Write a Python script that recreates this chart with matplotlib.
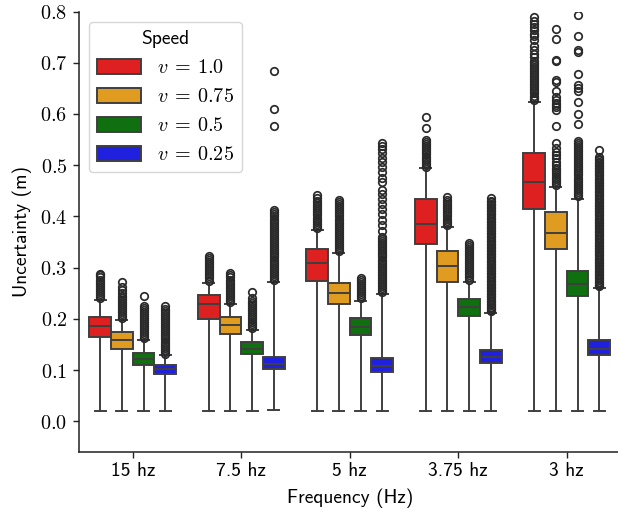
import matplotlib
matplotlib.use('Agg')
import matplotlib.pyplot as plt
from matplotlib.patches import Patch
from matplotlib.ticker import FuncFormatter, MultipleLocator
import colorsys
import matplotlib.colors as mcolors

categories = ['15 hz', '7.5 hz', '5 hz', '3.75 hz', '3 hz']
speed_labels = [r'$v\:=\:1.0$', r'$v\:=\:0.75$', r'$v\:=\:0.5$', r'$v\:=\:0.25$']
base_colors = ['red', 'orange', 'green', 'blue']

# per speed, per frequency
q1 = [[0.164, 0.200, 0.274, 0.346, 0.414],
      [0.141, 0.171, 0.229, 0.273, 0.336],
      [0.111, 0.132, 0.169, 0.206, 0.2455],
      [0.093, 0.102, 0.097, 0.115, 0.130]]
med = [[0.186, 0.229, 0.309, 0.385, 0.468],
       [0.158, 0.188, 0.250, 0.304, 0.368],
       [0.121, 0.142, 0.185, 0.223, 0.269],
       [0.102, 0.113, 0.108, 0.125, 0.1415]]
q3 = [[0.203, 0.247, 0.336, 0.4335, 0.523],
      [0.175, 0.2045, 0.271, 0.333, 0.408],
      [0.133, 0.155, 0.201, 0.239, 0.294],
      [0.110, 0.126, 0.123, 0.1395, 0.158]]
whishi = [[0.237, 0.271, 0.374, 0.494, 0.624],
          [0.198, 0.229, 0.328, 0.380, 0.458],
          [0.159, 0.179, 0.236, 0.273, 0.435],
          [0.129, 0.272, 0.249, 0.211, 0.260]]
whislo = [[0.020, 0.020, 0.021, 0.021, 0.021],
          [0.020, 0.020, 0.020, 0.020, 0.021],
          [0.020, 0.020, 0.020, 0.020, 0.020],
          [0.020, 0.022, 0.021, 0.021, 0.020]]

fliers = [
    [  # v = 1.0
        [0.241, 0.245, 0.249, 0.253, 0.257, 0.261, 0.265, 0.269, 0.273, 0.277, 0.281, 0.285, 0.288],
        [0.275, 0.279, 0.283, 0.287, 0.291, 0.295, 0.299, 0.303, 0.307, 0.311, 0.315, 0.319, 0.323],
        [0.378, 0.382, 0.386, 0.390, 0.394, 0.398, 0.402, 0.406, 0.410, 0.414, 0.418, 0.422, 0.426,
         0.431, 0.436, 0.442],
        [0.497, 0.501, 0.505, 0.509, 0.513, 0.517, 0.521, 0.525, 0.529, 0.533, 0.537, 0.541, 0.545,
         0.549, 0.573, 0.594],
        [0.628, 0.632, 0.636, 0.640, 0.644, 0.648, 0.652, 0.656, 0.660, 0.664, 0.668, 0.672, 0.676,
         0.680, 0.684, 0.688, 0.692, 0.696, 0.700, 0.704, 0.712, 0.718, 0.725, 0.733, 0.744, 0.752,
         0.757, 0.764, 0.770, 0.776, 0.782, 0.790],
    ],
    [  # v = 0.75
        [0.201, 0.205, 0.209, 0.213, 0.217, 0.221, 0.225, 0.229, 0.233, 0.237, 0.241, 0.245, 0.251,
         0.256, 0.262, 0.273],
        [0.233, 0.237, 0.241, 0.245, 0.249, 0.253, 0.257, 0.261, 0.265, 0.269, 0.273, 0.277, 0.281,
         0.285, 0.290],
        [0.332, 0.336, 0.340, 0.344, 0.348, 0.352, 0.356, 0.360, 0.364, 0.368, 0.372, 0.376, 0.380,
         0.384, 0.388, 0.392, 0.396, 0.400, 0.404, 0.408, 0.412, 0.416, 0.420, 0.424, 0.428, 0.433],
        [0.384, 0.388, 0.392, 0.396, 0.400, 0.404, 0.408, 0.412, 0.416, 0.420, 0.424, 0.428, 0.432,
         0.438],
        [0.462, 0.466, 0.470, 0.474, 0.478, 0.482, 0.486, 0.490, 0.494, 0.500, 0.506, 0.514, 0.520,
         0.526, 0.534, 0.543, 0.577, 0.608, 0.613, 0.617, 0.622, 0.627, 0.634, 0.644, 0.663, 0.666,
         0.703, 0.705, 0.746, 0.765],
    ],
    [  # v = 0.5
        [0.162, 0.166, 0.170, 0.174, 0.178, 0.182, 0.186, 0.190, 0.194, 0.198, 0.202, 0.206, 0.210,
         0.214, 0.218, 0.222, 0.226, 0.245],
        [0.183, 0.187, 0.191, 0.195, 0.199, 0.203, 0.207, 0.211, 0.215, 0.219, 0.223, 0.227, 0.231,
         0.235, 0.240, 0.253],
        [0.240, 0.244, 0.248, 0.252, 0.256, 0.260, 0.264, 0.268, 0.272, 0.276, 0.279],
        [0.277, 0.281, 0.285, 0.289, 0.293, 0.297, 0.301, 0.305, 0.309, 0.313, 0.317, 0.321, 0.325,
         0.329, 0.333, 0.337, 0.341, 0.345, 0.349],
        [0.440, 0.444, 0.448, 0.452, 0.456, 0.460, 0.464, 0.468, 0.472, 0.476, 0.480, 0.484, 0.488,
         0.492, 0.496, 0.500, 0.504, 0.508, 0.512, 0.516, 0.520, 0.524, 0.528, 0.532, 0.536, 0.540,
         0.544, 0.548, 0.580, 0.600, 0.624, 0.645, 0.650, 0.656, 0.678, 0.720, 0.724, 0.752, 0.793],
    ],
    [  # v = 0.25
        [0.132, 0.136, 0.140, 0.144, 0.148, 0.152, 0.156, 0.160, 0.164, 0.168, 0.172, 0.176, 0.180,
         0.184, 0.188, 0.192, 0.196, 0.200, 0.204, 0.208, 0.212, 0.216, 0.220, 0.225],
        [0.276, 0.280, 0.284, 0.288, 0.292, 0.296, 0.300, 0.304, 0.308, 0.312, 0.316, 0.320, 0.324,
         0.328, 0.332, 0.336, 0.340, 0.344, 0.348, 0.352, 0.356, 0.360, 0.364, 0.368, 0.372, 0.376,
         0.380, 0.384, 0.388, 0.392, 0.396, 0.400, 0.404, 0.408, 0.413, 0.577, 0.610, 0.684],
        [0.252, 0.256, 0.260, 0.264, 0.268, 0.272, 0.276, 0.280, 0.284, 0.288, 0.292, 0.296, 0.300,
         0.304, 0.308, 0.312, 0.316, 0.320, 0.324, 0.328, 0.332, 0.336, 0.340, 0.344, 0.348, 0.352,
         0.356, 0.360, 0.372, 0.384, 0.393, 0.404, 0.414, 0.424, 0.435, 0.444, 0.452, 0.468, 0.476,
         0.487, 0.497, 0.506, 0.515, 0.524, 0.531, 0.538, 0.543],
        [0.215, 0.218, 0.221, 0.224, 0.227, 0.230, 0.233, 0.236, 0.239, 0.242, 0.245, 0.248, 0.251,
         0.254, 0.257, 0.260, 0.263, 0.266, 0.269, 0.272, 0.275, 0.278, 0.281, 0.284, 0.287, 0.290,
         0.293, 0.296, 0.299, 0.302, 0.305, 0.308, 0.311, 0.314, 0.317, 0.320, 0.323, 0.326, 0.329,
         0.332, 0.335, 0.338, 0.341, 0.344, 0.347, 0.350, 0.353, 0.356, 0.359, 0.362, 0.365, 0.368,
         0.371, 0.374, 0.377, 0.380, 0.383, 0.386, 0.389, 0.392, 0.395, 0.398, 0.401, 0.404, 0.407,
         0.410, 0.413, 0.416, 0.419, 0.422, 0.425, 0.428, 0.431, 0.436],
        [0.264, 0.267, 0.270, 0.273, 0.276, 0.279, 0.282, 0.285, 0.288, 0.291, 0.294, 0.297, 0.300,
         0.303, 0.306, 0.309, 0.312, 0.315, 0.318, 0.321, 0.324, 0.327, 0.330, 0.333, 0.336, 0.339,
         0.342, 0.345, 0.348, 0.351, 0.354, 0.357, 0.360, 0.363, 0.366, 0.369, 0.372, 0.375, 0.378,
         0.381, 0.384, 0.387, 0.390, 0.393, 0.396, 0.399, 0.402, 0.405, 0.408, 0.411, 0.414, 0.417,
         0.420, 0.423, 0.426, 0.429, 0.432, 0.435, 0.438, 0.441, 0.444, 0.447, 0.450, 0.453, 0.456,
         0.459, 0.462, 0.465, 0.468, 0.471, 0.474, 0.477, 0.480, 0.483, 0.486, 0.489, 0.492, 0.495,
         0.498, 0.501, 0.504, 0.507, 0.510, 0.513, 0.516, 0.530],
    ],
]


def desat(c, s=0.75):
    r, g, b = mcolors.to_rgb(c)
    h, l, sat = colorsys.rgb_to_hls(r, g, b)
    return colorsys.hls_to_rgb(h, l, sat * s)


colors = [desat(c) for c in base_colors]
line_col = '#3f3f3f'
flier_col = '#2a2a2a'
sans = 'cmss10'
fs = 14

plt.rcParams['mathtext.fontset'] = 'cm'
plt.rcParams['axes.unicode_minus'] = False

fig = plt.figure(figsize=(6.18, 5.12), dpi=100)
ax = fig.add_axes([78.5 / 618, 60.3 / 512, 542.5 / 618, 440.2 / 512])

n_hue = len(speed_labels)
hue_w = 0.8 / n_hue
for h in range(n_hue):
    stats = []
    pos = []
    for i in range(len(categories)):
        stats.append(dict(med=med[h][i], q1=q1[h][i], q3=q3[h][i],
                          whislo=whislo[h][i], whishi=whishi[h][i],
                          fliers=fliers[h][i]))
        pos.append(i - 0.4 + hue_w * (h + 0.5))
    ax.bxp(stats, positions=pos, widths=hue_w, patch_artist=True, manage_ticks=False,
           boxprops=dict(facecolor=colors[h], edgecolor=line_col, linewidth=1.4),
           medianprops=dict(color=line_col, linewidth=1.4),
           whiskerprops=dict(color=line_col, linewidth=1.4),
           capprops=dict(color=line_col, linewidth=1.4),
           capwidths=hue_w * 0.5,
           flierprops=dict(marker='o', markersize=5.4, markerfacecolor='none',
                           markeredgecolor=flier_col, markeredgewidth=1.25, linestyle='none'))

ax.set_xlim(-0.5, 4.5)
ax.set_ylim(-0.059, 0.8)
ax.set_xticks(range(len(categories)))
ax.set_xticklabels(categories, fontfamily=sans, fontsize=fs)
ax.yaxis.set_major_locator(MultipleLocator(0.1))
ax.yaxis.set_major_formatter(FuncFormatter(lambda v, p: f'${v:.1f}$'))
ax.tick_params(axis='y', labelsize=fs + 0.5, length=4.5, width=1.0, color='#222222')
ax.tick_params(axis='x', length=4, width=1.0, color='#222222')
ax.spines['top'].set_visible(False)
ax.spines['right'].set_visible(False)
for s in ['left', 'bottom']:
    ax.spines[s].set_color('#222222')
    ax.spines[s].set_linewidth(1.1)

ax.set_xlabel('Frequency (Hz)', fontfamily=sans, fontsize=fs, labelpad=6)
ax.set_ylabel('Uncertainty (m)', fontfamily=sans, fontsize=fs, labelpad=6)

handles = [Patch(facecolor=colors[h], edgecolor=line_col, linewidth=1.4, label=speed_labels[h])
           for h in range(n_hue)]
leg = ax.legend(handles=handles, loc='upper left', bbox_to_anchor=(0.019, 0.976),
                borderaxespad=0, fontsize=fs + 0.5, title='Speed',
                title_fontproperties={'family': sans, 'size': fs},
                handlelength=2.2, handleheight=0.75, labelspacing=0.5, framealpha=0.8,
                edgecolor='#cccccc')

fig.savefig('out.png', dpi=100)
